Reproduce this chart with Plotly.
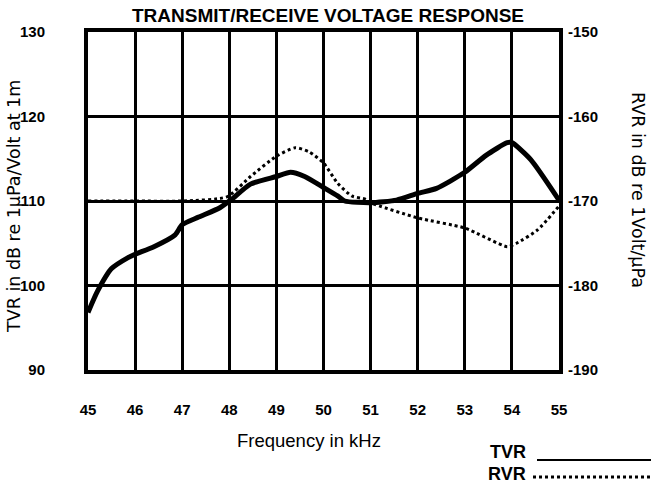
import plotly.graph_objects as go

# ---- data ----
freq_tvr = [45.0, 45.2, 45.5, 45.85, 46.0, 46.4, 46.85, 47.0, 47.35, 47.8, 48.05, 48.45,
            49.0, 49.3, 49.6, 50.0, 50.3, 50.45, 51.0, 51.55, 52.0, 52.4, 53.0, 53.45,
            53.9, 54.0, 54.4, 55.0]
tvr = [96.8, 99.3, 102.0, 103.3, 103.7, 104.6, 106.0, 107.2, 108.1, 109.2, 110.2, 112.0,
       112.9, 113.4, 112.9, 111.6, 110.6, 110.0, 109.8, 110.1, 110.9, 111.5, 113.4, 115.4,
       116.9, 116.9, 114.9, 110.1]

freq_rvr = [45.0, 46.0, 47.0, 47.95, 48.45, 49.0, 49.4, 49.7, 50.0, 50.3, 50.6, 50.9,
            51.0, 52.0, 53.0, 53.9, 54.1, 54.55, 55.0]
rvr = [-170.0, -170.0, -170.0, -169.5, -167.1, -164.7, -163.7, -164.2, -165.5, -167.9,
       -169.4, -169.8, -170.2, -172.0, -173.2, -175.4, -175.0, -173.4, -170.6]

x_ticks = [45, 46, 47, 48, 49, 50, 51, 52, 53, 54, 55]
x_ticktext = ["45", "46", "47", "48", "49", "50", "51", "52", "53", "54", "55"]
tvr_ticks = [90, 100, 110, 120, 130]
tvr_ticktext = ["90", "100", "110", "120", "130"]
rvr_ticks = [-190, -180, -170, -160, -150]
rvr_ticktext = ["-190", "-180", "-170", "-160", "-150"]

FONT = "Liberation Sans, Arial, sans-serif"
WIDE = "DejaVu Sans, Liberation Sans, sans-serif"

fig = go.Figure()
fig.add_trace(go.Scatter(x=freq_tvr, y=tvr, mode="lines", name="TVR",
                         line=dict(color="black", width=5, shape="spline", smoothing=0.6),
                         yaxis="y", showlegend=False))
fig.add_trace(go.Scatter(x=freq_rvr, y=rvr, mode="lines", name="RVR",
                         line=dict(color="black", width=3, dash="dot", shape="spline", smoothing=0.6),
                         yaxis="y2", showlegend=False))

W, H = 651, 485
L, R, T, B = 88, 92, 32, 115
PW, PH = W - L - R, H - T - B


def px(xp):
    return (xp - L) / PW


def py(yp):
    return (H - B - yp) / PH


fig.update_layout(
    width=W, height=H,
    margin=dict(l=L, r=R, t=T, b=B, pad=0),
    paper_bgcolor="white", plot_bgcolor="white",
    font=dict(family=FONT, color="black"),
    xaxis=dict(range=[45, 55], tickvals=x_ticks, ticktext=x_ticktext,
               showgrid=True, gridcolor="black", gridwidth=3,
               showline=True, linecolor="black", linewidth=4, mirror=True,
               ticks="", zeroline=False, ticklabelstandoff=23,
               tickfont=dict(size=15, family=FONT, weight="bold")),
    yaxis=dict(range=[90, 130], tickvals=tvr_ticks, ticktext=tvr_ticktext,
               showgrid=True, gridcolor="black", gridwidth=3,
               showline=True, linecolor="black", linewidth=4, mirror=True,
               ticks="", zeroline=False, ticklabelstandoff=36,
               tickfont=dict(size=15, family=FONT, weight="bold")),
    yaxis2=dict(range=[-190, -150], tickvals=rvr_ticks, ticktext=rvr_ticktext,
                overlaying="y", side="right", showgrid=False, zeroline=False,
                showline=False, ticks="", ticklabelstandoff=8,
                tickfont=dict(size=15, family=FONT, weight="bold")),
    showlegend=False,
)

ann = [
    dict(text="TRANSMIT/RECEIVE VOLTAGE RESPONSE", x=px(328), y=py(15),
         font=dict(size=19, weight="bold", family=FONT)),
    dict(text="TVR in dB re 1µPa/Volt at 1m", x=px(14), y=py(207), textangle=-90,
         font=dict(size=17.5, family=WIDE)),
    dict(text="RVR in dB re 1Volt/µPa", x=px(638), y=py(190), textangle=90,
         font=dict(size=17.5, family=WIDE)),
    dict(text="Frequency in kHz", x=px(309), y=py(440), font=dict(size=18.5, family=FONT)),
    dict(text="TVR", x=px(508), y=py(452), font=dict(size=18, weight="bold", family=FONT)),
    dict(text="RVR", x=px(507), y=py(474), font=dict(size=18, weight="bold", family=FONT)),
]
for a in ann:
    a.update(xref="paper", yref="paper", showarrow=False, xanchor="center", yanchor="middle")
    a["font"] = dict(color="black", **a["font"])
fig.update_layout(annotations=ann)

fig.add_shape(type="line", xref="paper", yref="paper", x0=px(537), x1=px(651),
              y0=py(460), y1=py(460), line=dict(color="black", width=2))
fig.add_shape(type="line", xref="paper", yref="paper", x0=px(533), x1=px(651),
              y0=py(477), y1=py(477), line=dict(color="black", width=3, dash="dot"))

fig.write_html("out.html", config={"displayModeBar": False},
               post_script="document.body.style.margin='0px';document.body.style.overflow='hidden';")
